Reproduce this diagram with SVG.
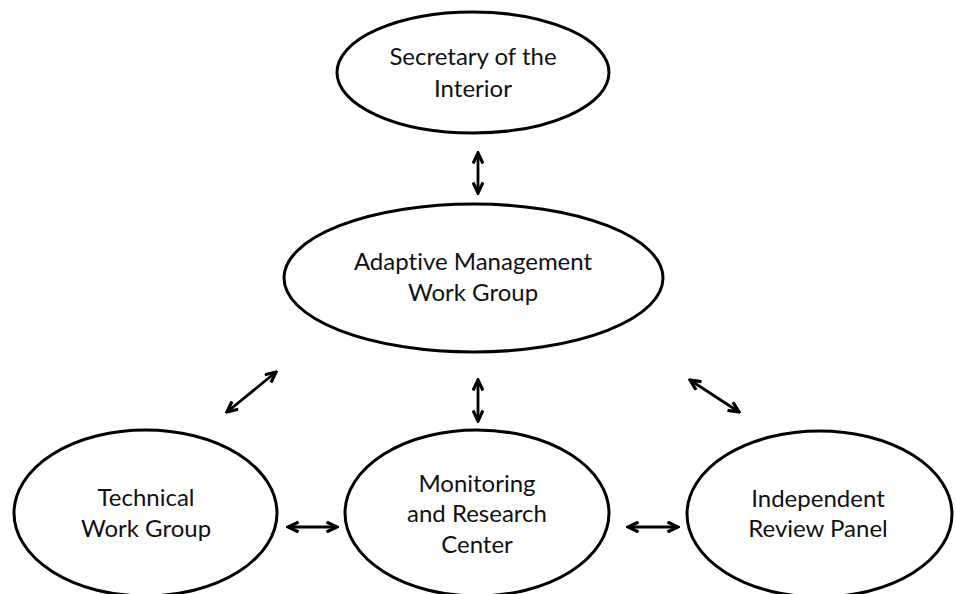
<svg xmlns="http://www.w3.org/2000/svg" width="956" height="594" viewBox="0 0 956 594">
<style>
.node ellipse{fill:#fff;stroke:#000;stroke-width:3}
.node text{font-family:Lato,"Open Sans","Liberation Sans",sans-serif;font-size:24px;fill:#111;text-anchor:middle;font-variant-ligatures:none;font-feature-settings:"liga" 0}
.conn line{stroke:#000;stroke-width:2.8;fill:none;marker-start:url(#ah);marker-end:url(#ah)}
</style>
<defs>
<marker id="ah" viewBox="0 0 14 12" refX="12" refY="6" markerWidth="14" markerHeight="12" markerUnits="userSpaceOnUse" orient="auto-start-reverse">
<path d="M1.5,1 L12,6 L1.5,11" fill="none" stroke="#000" stroke-width="3.2" stroke-linejoin="miter"/>
</marker>
</defs>
<rect width="956" height="594" fill="#fff"/>
<g id="secretary" class="node">
<ellipse cx="473" cy="72.5" rx="136" ry="60.5"/>
<text x="473" y="65">Secretary of the</text>
<text x="473" y="97">Interior</text>
</g>
<g id="amwg" class="node">
<ellipse cx="473.5" cy="278" rx="189.5" ry="74"/>
<text x="473" y="270">Adaptive Management</text>
<text x="473" y="301">Work Group</text>
</g>
<g id="twg" class="node">
<ellipse cx="145.5" cy="513" rx="131.5" ry="83"/>
<text x="146" y="506">Technical</text>
<text x="146" y="537">Work Group</text>
</g>
<g id="gcmrc" class="node">
<ellipse cx="477" cy="513" rx="132" ry="83"/>
<text x="477" y="492">Monitoring</text>
<text x="477" y="522">and Research</text>
<text x="477" y="553">Center</text>
</g>
<g id="irp" class="node">
<ellipse cx="819.5" cy="514" rx="132.5" ry="83"/>
<text x="818" y="507">Independent</text>
<text x="818" y="537">Review Panel</text>
</g>
<g id="connectors" class="conn">
<line x1="478" y1="153" x2="478" y2="193"/>
<line x1="478" y1="380" x2="478" y2="421"/>
<line x1="227" y1="412" x2="276" y2="372"/>
<line x1="690" y1="380" x2="739" y2="412"/>
<line x1="288" y1="527" x2="337" y2="527"/>
<line x1="628" y1="527" x2="678" y2="527"/>
</g>
</svg>
